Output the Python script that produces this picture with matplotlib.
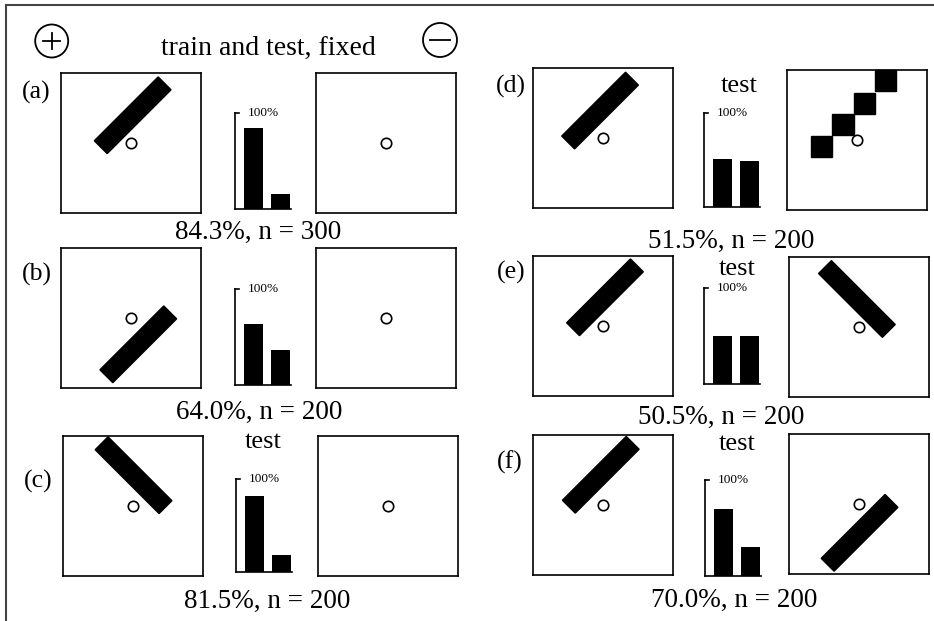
import matplotlib
matplotlib.use("Agg")
import matplotlib.pyplot as plt
from matplotlib.patches import Rectangle, Circle

W, H = 934, 621
plt.rcParams['font.family'] = ['Liberation Serif', 'DejaVu Serif']

# one entry per panel (a)..(f)
labels = ['(a)', '(b)', '(c)', '(d)', '(e)', '(f)']
accuracy = [84.3, 64.0, 81.5, 51.5, 50.5, 70.0]
n_trials = [300, 200, 200, 200, 200, 200]
is_test = [False, False, True, True, True, True]

# "+" stimulus: bar centre (x, y) in the unit square and its angle
pos_bar = [(0.512, 0.698, 45), (0.552, 0.312, 45), (0.504, 0.720, -45),
           (0.479, 0.696, 45), (0.514, 0.705, 45), (0.484, 0.716, 45)]
# "-" stimulus: None = blank, 'steps' = staircase of squares
neg_bar = [None, None, None, 'steps', (0.485, 0.700, -45), (0.504, 0.294, 45)]
steps_x = [0.245, 0.399, 0.556, 0.706]
steps_y = [0.456, 0.609, 0.763, 0.927]

BAR_LEN, BAR_W, STEP = 0.645, 0.13, 0.152

# pixel layout: left square (x, y), right square (x, y), bar axes (x, top, h),
# label centre, caption baseline, "test" baseline
layout = [
    dict(ls=(61, 73), rs=(316, 73), ba=(235, 113, 96), lab=(36, 92), cap=(258, 239), tst=None),
    dict(ls=(61, 248), rs=(316, 248), ba=(235, 289, 96), lab=(37, 274), cap=(259, 419), tst=None),
    dict(ls=(63, 436), rs=(318, 436), ba=(236, 479, 93), lab=(38, 481), cap=(267, 608), tst=(263, 448)),
    dict(ls=(533, 68), rs=(787, 70), ba=(704, 113, 94), lab=(511, 86), cap=(731, 248), tst=(739, 92)),
    dict(ls=(533, 256), rs=(789, 257), ba=(704, 288, 96), lab=(511, 272), cap=(721, 424), tst=(737, 275)),
    dict(ls=(533, 435), rs=(789, 434), ba=(705, 480, 96), lab=(510, 462), cap=(734, 607), tst=(737, 450)),
]
SQ = 140


def px_axes(x, y, w, h):
    return fig.add_axes([x / W, 1 - (y + h) / H, w / W, h / H])


def square(x, y):
    ax = px_axes(x, y, SQ, SQ)
    ax.set_xlim(0, 1)
    ax.set_ylim(0, 1)
    ax.set_xticks([])
    ax.set_yticks([])
    for s in ax.spines.values():
        s.set_linewidth(1.2)
    return ax


def add_bar(ax, cx, cy, ang):
    ax.add_patch(Rectangle((cx - BAR_LEN / 2, cy - BAR_W / 2), BAR_LEN, BAR_W,
                           angle=ang, rotation_point='center', color='black'))


def fixation(ax):
    ax.plot(0.5, 0.5, 'o', ms=7.5, mfc='white', mec='black', mew=1.2, zorder=5)


fig = plt.figure(figsize=(W / 100, H / 100), dpi=100)

# overlay in pixel units for frame, symbols and texts
ov = fig.add_axes([0, 0, 1, 1])
ov.set_xlim(0, W)
ov.set_ylim(H, 0)
ov.axis('off')
ov.plot([6, 6], [H, 4.5], color='#444444', lw=1.5)
ov.plot([6, W], [4.5, 4.5], color='#444444', lw=1.5)
ov.add_patch(Circle((51.7, 41), 16.5, fill=False, lw=1.3))
ov.plot([43.4, 60], [41, 41], color='black', lw=1.3)
ov.plot([51.7, 51.7], [32.7, 49.3], color='black', lw=1.3)
ov.add_patch(Circle((440, 40), 17, fill=False, lw=1.3))
ov.plot([430, 450], [40, 40], color='black', lw=1.3)
ov.text(268, 55, 'train and test, fixed', fontsize=20, ha='center', va='baseline')

for i, lay in enumerate(layout):
    # positive (training) stimulus
    ax = square(*lay['ls'])
    add_bar(ax, *pos_bar[i])
    fixation(ax)

    # negative stimulus
    ax = square(*lay['rs'])
    if neg_bar[i] == 'steps':
        for sx, sy in zip(steps_x, steps_y):
            ax.add_patch(Rectangle((sx - STEP / 2, sy - STEP / 2), STEP, STEP,
                                   color='black', clip_on=False))
    elif neg_bar[i] is not None:
        add_bar(ax, *neg_bar[i])
    fixation(ax)

    # response bars
    bx, btop, bh = lay['ba']
    ax = px_axes(bx, btop, 56, bh)
    ax.bar([18, 45], [accuracy[i], 100 - accuracy[i]], width=19, color='black')
    ax.set_xlim(0, 55.5)
    ax.set_ylim(0, 100)
    ax.set_xticks([])
    ax.set_yticks([])
    ax.spines[['top', 'right']].set_visible(False)
    for s in ax.spines.values():
        s.set_linewidth(1.2)
    ax.plot([0, 4], [100, 100], color='black', lw=1.2, clip_on=False)
    ax.text(13, 100, '100%', fontsize=9.5, ha='left', va='center')

    ov.text(*lay['lab'], labels[i], fontsize=18.5, ha='center', va='center')
    ov.text(*lay['cap'], f'{accuracy[i]:.1f}%, n = {n_trials[i]}',
            fontsize=19.5, ha='center', va='baseline')
    if is_test[i]:
        ov.text(*lay['tst'], 'test', fontsize=19, ha='center', va='baseline')

fig.savefig('out.png', dpi=100)
